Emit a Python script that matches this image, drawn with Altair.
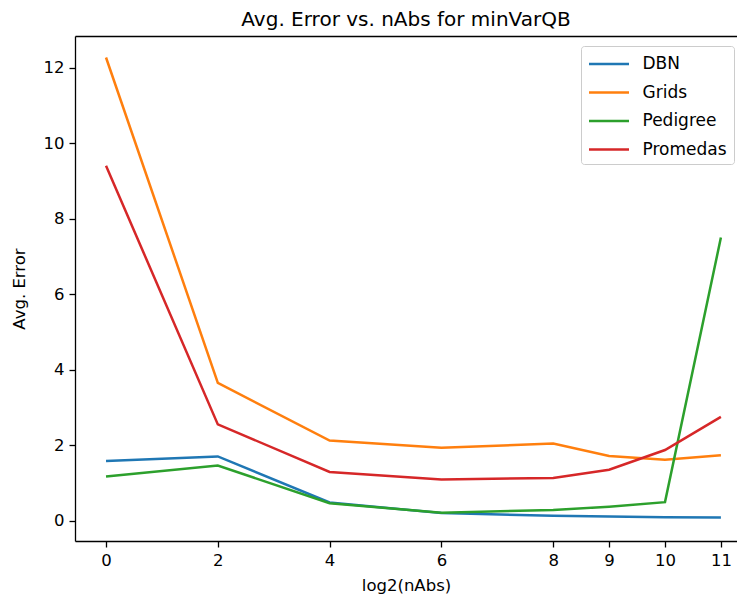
import altair as alt
import pandas as pd

x_vals = [0, 2, 4, 6, 8, 9, 10, 11]
dbn = [1.58, 1.70, 0.48, 0.20, 0.13, 0.11, 0.09, 0.08]
grids = [12.27, 3.65, 2.12, 1.93, 2.04, 1.71, 1.61, 1.73]
pedigree = [1.17, 1.46, 0.46, 0.21, 0.28, 0.37, 0.49, 7.5]
promedas = [9.40, 2.55, 1.29, 1.09, 1.13, 1.35, 1.87, 2.75]

series_names = ["DBN", "Grids", "Pedigree", "Promedas"]
series_vals = [dbn, grids, pedigree, promedas]
colors = ["#1f77b4", "#ff7f0e", "#2ca02c", "#d62728"]
y_ticks = [0, 2, 4, 6, 8, 10, 12]

rows = []
for name, vals in zip(series_names, series_vals):
    for x, v in zip(x_vals, vals):
        rows.append({"nabs": x, "err": v, "series": name})
df = pd.DataFrame(rows)

FONT = "DejaVu Sans"
x_scale = alt.Scale(domain=[-0.555, 11.288], nice=False, zero=False)
y_scale = alt.Scale(domain=[-0.54, 12.84], nice=False, zero=False)

lines = alt.Chart(df).mark_line(strokeWidth=2.5, clip=True).encode(
    x=alt.X(
        "nabs:Q", scale=x_scale,
        axis=alt.Axis(values=x_vals, title="log2(nAbs)", grid=False,
                      format="d", titlePadding=9),
    ),
    y=alt.Y(
        "err:Q", scale=y_scale,
        axis=alt.Axis(values=y_ticks, title="Avg. Error", grid=False,
                      format="d", titlePadding=16),
    ),
    color=alt.Color(
        "series:N",
        scale=alt.Scale(domain=series_names, range=colors),
        legend=alt.Legend(
            title=None,
            orient="none",
            legendX=506,
            legendY=10,
            symbolType="M-1,0L3,0",
            symbolSize=400,
            symbolStrokeWidth=2.5,
            labelFontSize=17,
            labelFont=FONT,
            labelColor="black",
            labelOffset=32,
            rowPadding=8.5,
            padding=6.5,
            strokeColor="#cccccc",
            fillColor="white",
            cornerRadius=3,
        ),
    ),
)

# invisible layer that carries the top spine (matplotlib-style frame)
top_frame = alt.Chart(df).mark_point(opacity=0).encode(
    x=alt.X("nabs:Q", scale=x_scale,
            axis=alt.Axis(orient="top", labels=False, ticks=False, title=None,
                          grid=False, domain=True)),
    y=alt.Y("err:Q", scale=y_scale),
)

chart = alt.layer(lines, top_frame).resolve_axis(x="independent").properties(
    width=662,
    height=505,
    autosize=alt.AutoSizeParams(type="none"),
    padding={"left": 67, "top": 28, "right": 0, "bottom": 58},
    title=alt.TitleParams(
        "Avg. Error vs. nAbs for minVarQB",
        fontSize=20, font=FONT, fontWeight="normal", color="black",
        offset=6, anchor="middle",
    ),
).configure_view(
    stroke=None
).configure_axis(
    labelFont=FONT, titleFont=FONT, labelFontSize=16.5, titleFontSize=16.5,
    labelColor="black", titleColor="black", titleFontWeight="normal",
    domainColor="black", tickColor="black", domainWidth=1.3, tickWidth=1.3,
    tickSize=6, labelPadding=5,
)

chart.save("out.html", embed_options={"renderer": "svg", "actions": False})
